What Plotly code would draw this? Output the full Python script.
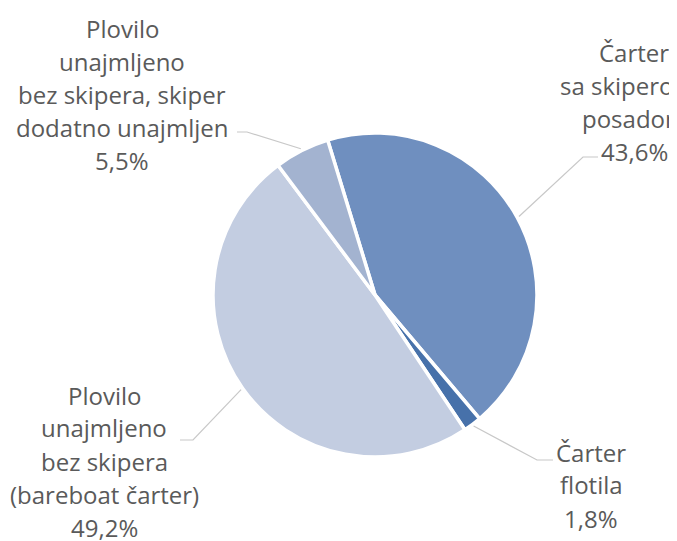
import math
import plotly.graph_objects as go

labels = ["Čarter sa skiperom i posadom", "Čarter flotila",
          "Plovilo unajmljeno bez skipera (bareboat čarter)",
          "Plovilo unajmljeno bez skipera, skiper dodatno unajmljen"]
values = [43.6, 1.8, 49.2, 5.5]
label_lines = [["Čarter", "sa skiperom i", "posadom", "43,6%"],
               ["Čarter", "flotila", "1,8%"],
               ["Plovilo", "unajmljeno", "bez skipera", "(bareboat čarter)", "49,2%"],
               ["Plovilo", "unajmljeno", "bez skipera, skiper", "dodatno unajmljen", "5,5%"]]
colors = ["#6f8fbf", "#4771aa", "#c3cde1", "#a3b3d0"]

W, H = 677, 541
OFF = 8  # page body margin offset
CX, CY, R = 375 - OFF, 295 - OFF, 162
ROT = -17
LINE_H = 33

# layout: label centers and elbow points (reference pixels)
text_pos = [(634, 102), (591, 485), (104, 461), (122, 94)]
elbow_pts = [[(583, 157), (598, 157)], [(537, 460), (553, 460)],
             [(193, 440), (180, 440)], [(247, 132), (237, 132)]]

fig = go.Figure(go.Pie(
    labels=labels, values=values, sort=False, direction="clockwise",
    rotation=ROT, textinfo="none", hoverinfo="label+percent",
    marker=dict(colors=colors, line=dict(color="white", width=3.5)),
    domain=dict(x=[(CX - R) / W, (CX + R) / W], y=[1 - (CY + R) / H, 1 - (CY - R) / H]),
    showlegend=False,
))

def px(x):
    return x / W

def py(y):
    return 1 - y / H

total = sum(values)
cum = 0
shapes = []
annotations = []
for i, v in enumerate(values):
    mid = ROT + (cum + v / 2) / total * 360
    cum += v
    a = math.radians(mid)
    ex = CX + (R + 2) * math.sin(a)
    ey = CY - (R + 2) * math.cos(a)
    (x1, y1), (x2, y2) = elbow_pts[i]
    x1, y1, x2, y2 = x1 - OFF, y1 - OFF, x2 - OFF, y2 - OFF
    path = f"M {px(ex)},{py(ey)} L {px(x1)},{py(y1)} L {px(x2)},{py(y2)}"
    shapes.append(dict(type="path", path=path, xref="paper", yref="paper",
                       line=dict(color="#c8c8c8", width=1.2)))
    tx, ty = text_pos[i]
    n = len(label_lines[i])
    for k, line in enumerate(label_lines[i]):
        ly = ty + (k - (n - 1) / 2) * LINE_H
        annotations.append(dict(text=line, x=px(tx - OFF), y=py(ly - OFF), xref="paper", yref="paper",
                                xanchor="center", yanchor="middle", showarrow=False, align="center",
                                font=dict(family="Open Sans", size=24, color="#5a5a5a")))

fig.update_layout(width=W, height=H, margin=dict(l=0, r=0, t=0, b=0),
                  paper_bgcolor="white", plot_bgcolor="white",
                  shapes=shapes, annotations=annotations)

fig.write_html("out.html")
